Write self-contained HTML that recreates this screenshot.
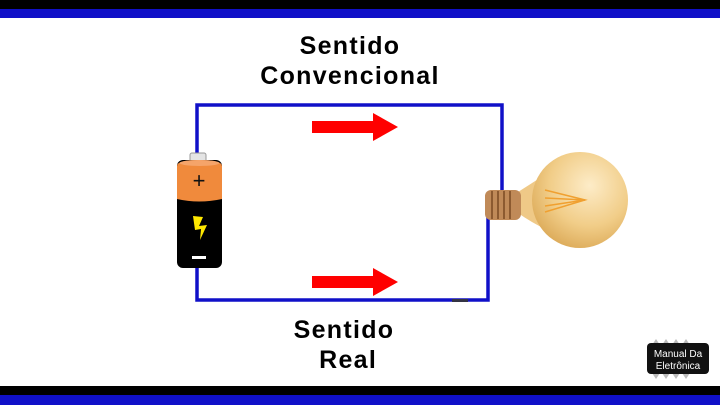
<!DOCTYPE html>
<html><head><style>
body{margin:0;width:720px;height:405px;overflow:hidden;background:#fff;font-family:"Liberation Sans",sans-serif;}
.t{position:absolute;font-weight:bold;font-size:25px;letter-spacing:1.3px;color:#000;text-align:center;}
</style></head><body>
<div style="position:absolute;left:0;top:0;width:720px;height:9px;background:#000"></div>
<div style="position:absolute;left:0;top:9px;width:720px;height:9px;background:#1010c8"></div>
<div style="position:absolute;left:0;top:386px;width:720px;height:9px;background:#000"></div>
<div style="position:absolute;left:0;top:395px;width:720px;height:10px;background:#1010c8"></div>
<div class="t" style="left:220px;top:31px;width:260px;line-height:30px">Sentido<br>Convencional</div>
<div class="t" style="left:244px;top:315px;width:200px;line-height:30px">Sentido<br>&nbsp;Real</div>
<svg width="720" height="405" style="position:absolute;left:0;top:0">
<polyline points="197,155 197,105 502,105 502,195" fill="none" stroke="#1010c8" stroke-width="3.5"/>
<polyline points="488,212 488,300 197,300 197,265" fill="none" stroke="#1010c8" stroke-width="3.5"/>
<rect x="452" y="299" width="16" height="3" fill="#334"/>
<polygon points="312,121 373,121 373,113 398,127 373,141 373,133 312,133" fill="#f00"/>
<polygon points="312,276 373,276 373,268 398,282 373,296 373,288 312,288" fill="#f00"/>
<rect x="190" y="153" width="16" height="10" rx="2" fill="#e4e4e4" stroke="#999"/>
<rect x="177" y="160" width="45" height="108" rx="6" fill="#000"/>
<path d="M177,166 Q177,160 199,160 Q222,160 222,166 L222,199 Q199,204 177,199 Z" fill="#f08a3c"/>
<ellipse cx="199.5" cy="163" rx="20" ry="3" fill="#f5a46a"/>
<text x="199" y="188" font-size="22" text-anchor="middle" font-family="Liberation Sans" fill="#111">+</text>
<polygon points="193,216 203,217 199,226 207,225 200,240 201,229 195,230" fill="#ffe800"/>
<rect x="192" y="256" width="14" height="3" fill="#fff"/>
<defs><radialGradient id="g" cx="0.6" cy="0.35" r="0.7"><stop offset="0" stop-color="#fdecc8"/><stop offset="0.6" stop-color="#f1cd88"/><stop offset="1" stop-color="#dcaa58"/></radialGradient></defs>
<path d="M518,192 Q540,178 560,165 L575,240 Q545,232 518,213 Z" fill="#efc987"/>
<circle cx="580" cy="200" r="48" fill="url(#g)"/>
<rect x="485" y="190" width="36" height="30" rx="6" fill="#c08a58"/>
<g stroke="#7a4b22" stroke-width="1.5"><line x1="492" y1="191" x2="492" y2="219"/><line x1="498" y1="191" x2="498" y2="219"/><line x1="504" y1="191" x2="504" y2="219"/><line x1="510" y1="191" x2="510" y2="219"/></g>
<g stroke="#f0a030" stroke-width="1.5" fill="none"><path d="M545,190 L585,200 L545,212"/><path d="M545,198 L585,200"/><path d="M545,206 L585,200"/></g>
<g fill="#bbb"><polygon points="652,345 660,345 656,339"/><polygon points="662,345 670,345 666,339"/><polygon points="672,345 680,345 676,339"/><polygon points="682,345 690,345 686,339"/>
<polygon points="652,373 660,373 656,379"/><polygon points="662,373 670,373 666,379"/><polygon points="672,373 680,373 676,379"/><polygon points="682,373 690,373 686,379"/></g>
<rect x="647" y="343" width="62" height="31" rx="4" fill="#111"/>
<text x="678" y="357" font-size="10" fill="#fff" text-anchor="middle" font-family="Liberation Sans">Manual Da</text>
<text x="678" y="369" font-size="10" fill="#fff" text-anchor="middle" font-family="Liberation Sans">Eletrônica</text>
</svg>
</body></html>
